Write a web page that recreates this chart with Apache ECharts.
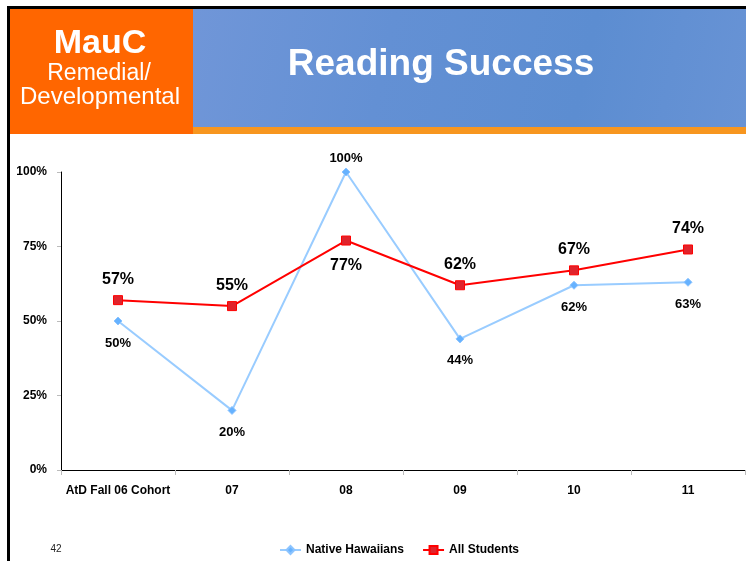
<!DOCTYPE html>
<html>
<head>
<meta charset="utf-8">
<script src="https://cdn.jsdelivr.net/npm/echarts@6/dist/echarts.min.js"></script>
<style>
  html, body { margin: 0; padding: 0; background: #fff; }
  #chart { width: 746px; height: 561px; }
</style>
</head>
<body>
<div id="chart"></div>
<script>
// Cohort categories and reading success rates (%)
const categories = ['AtD Fall 06 Cohort', '07', '08', '09', '10', '11'];
const nativeHawaiians = [50, 20, 100, 44, 62, 63];
const allStudents = [57, 55, 77, 62, 67, 74];
const yTicks = [0, 25, 50, 75, 100];

// Put each point's label on the side away from the other series
function labelled(values, others, distAbove, distBelow) {
  return values.map(function (v, i) {
    const above = v >= others[i];
    return {
      value: v,
      label: { position: above ? 'top' : 'bottom', distance: above ? distAbove : distBelow }
    };
  });
}

const chart = echarts.init(document.getElementById('chart'), null, { renderer: 'canvas' });
const font = '"Liberation Sans", Arial, sans-serif';

chart.setOption({
  animation: false,
  backgroundColor: '#ffffff',
  textStyle: { fontFamily: font },
  graphic: [
    // slide frame
    { type: 'rect', shape: { x: 7, y: 6, width: 739, height: 3 }, style: { fill: '#000' }, z: 10 },
    { type: 'rect', shape: { x: 7, y: 6, width: 3, height: 555 }, style: { fill: '#000' }, z: 10 },
    // header banner
    { type: 'rect', shape: { x: 193, y: 9, width: 553, height: 119 },
      style: { fill: new echarts.graphic.LinearGradient(0, 0, 1, 1, [
        { offset: 0, color: '#7096D8' }, { offset: 0.35, color: '#6390D4' },
        { offset: 0.7, color: '#5C8DD1' }, { offset: 1, color: '#6893D5' }]) }, z: 1 },
    { type: 'rect', shape: { x: 193, y: 127, width: 553, height: 7 }, style: { fill: '#F7961F' }, z: 2 },
    { type: 'rect', shape: { x: 10, y: 9, width: 183, height: 125 }, style: { fill: '#FF6600' }, z: 2 },
    { type: 'text', x: 100, y: 44, z: 3,
      style: { text: 'MauC', fill: '#fff', font: 'bold 34px ' + font, align: 'center', verticalAlign: 'middle' } },
    { type: 'text', x: 99, y: 74, z: 3,
      style: { text: 'Remedial/', fill: '#fff', font: '23px ' + font, align: 'center', verticalAlign: 'middle' } },
    { type: 'text', x: 100, y: 97, z: 3,
      style: { text: 'Developmental', fill: '#fff', font: '24px ' + font, align: 'center', verticalAlign: 'middle' } },
    { type: 'text', x: 441, y: 65, z: 3,
      style: { text: 'Reading Success', fill: '#fff', font: 'bold 37px ' + font, align: 'center', verticalAlign: 'middle' } },
    // page number
    { type: 'text', x: 56, y: 549, z: 3,
      style: { text: '42', fill: '#222', font: '10px ' + font, align: 'center', verticalAlign: 'middle' } }
  ],
  grid: { left: 61, right: 1, top: 172, bottom: 91, containLabel: false },
  legend: {
    top: 539, left: 274,
    itemWidth: 21, itemHeight: 10, itemGap: 18,
    textStyle: { fontFamily: font, fontWeight: 'bold', fontSize: 12, color: '#000' },
    data: ['Native Hawaiians', 'All Students']
  },
  xAxis: {
    type: 'category',
    data: categories,
    boundaryGap: true,
    axisLine: { lineStyle: { color: '#000', width: 1 } },
    axisTick: { show: true, interval: 0, alignWithLabel: false, length: 5, lineStyle: { color: '#bbb' } },
    axisLabel: { interval: 0, color: '#000', fontWeight: 'bold', fontSize: 12, fontFamily: font, margin: 15 },
    splitLine: { show: false }
  },
  yAxis: {
    type: 'value',
    min: 0, max: 100, interval: 25,
    axisLine: { show: true, lineStyle: { color: '#000', width: 1 } },
    axisTick: { show: true, length: 4, lineStyle: { color: '#bbb' } },
    axisLabel: {
      color: '#000', fontWeight: 'bold', fontSize: 12, fontFamily: font, margin: 14,
      formatter: function (v) { return yTicks.indexOf(v) >= 0 ? v + '%' : ''; }
    },
    splitLine: { show: false }
  },
  series: [
    {
      name: 'Native Hawaiians',
      type: 'line',
      data: labelled(nativeHawaiians, allStudents, 3, 11),
      symbol: 'diamond', symbolSize: 8,
      lineStyle: { color: '#99CCFF', width: 2 },
      itemStyle: { color: '#66B2FF', borderColor: '#8CC4FF', borderWidth: 1 },
      label: {
        show: true, formatter: '{c}%', color: '#000',
        fontWeight: 'bold', fontSize: 13, fontFamily: font
      },
      z: 2
    },
    {
      name: 'All Students',
      type: 'line',
      data: labelled(allStudents, nativeHawaiians, 8, 12),
      symbol: 'rect', symbolSize: 9,
      lineStyle: { color: '#FF0000', width: 2 },
      itemStyle: { color: '#E0242C', borderColor: '#FF0000', borderWidth: 1 },
      label: {
        show: true, formatter: '{c}%', color: '#000',
        fontWeight: 'bold', fontSize: 16, fontFamily: font
      },
      z: 3
    }
  ]
});
</script>
</body>
</html>
